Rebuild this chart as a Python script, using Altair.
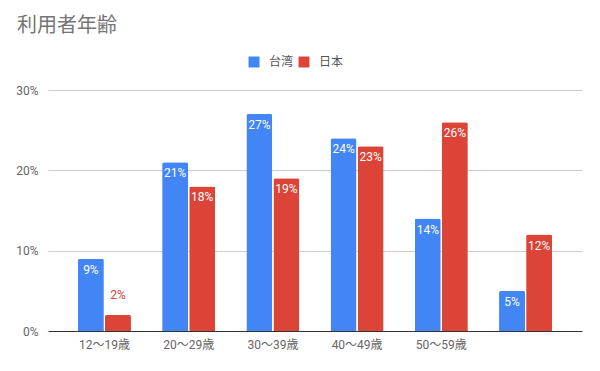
import altair as alt
import pandas as pd

categories = ["12〜19歳", "20〜29歳", "30〜39歳", "40〜49歳", "50〜59歳", " "]
series_names = ["台湾", "日本"]
taiwan = [9, 21, 27, 24, 14, 5]
japan = [2, 18, 19, 23, 26, 12]
colors = ["#4285F4", "#DB4437"]

rows = []
for c, t, j in zip(categories, taiwan, japan):
    rows.append({"cat": c, "series": "台湾", "value": t, "label": f"{t}%"})
    rows.append({"cat": c, "series": "日本", "value": j, "label": f"{j}%"})
df = pd.DataFrame(rows)

FONT = "Roboto, Noto Sans CJK JP, sans-serif"

x = alt.X("cat:N", sort=categories, title=None,
          scale=alt.Scale(paddingInner=0.37, paddingOuter=0.355),
          axis=alt.Axis(labelAngle=0, labelColor="#666666", labelFontSize=12,
                        labelFont=FONT, labelPadding=8, ticks=False,
                        domainColor="#333333", domainWidth=1.2, grid=False))
xo = alt.XOffset("series:N", sort=series_names, scale=alt.Scale(paddingInner=0.04))
y = alt.Y("value:Q", title=None,
          scale=alt.Scale(domain=[0, 30], nice=False),
          axis=alt.Axis(values=[0, 10, 20, 30], labelExpr="datum.value + '%'",
                        labelColor="#666666", labelFontSize=12, labelFont=FONT,
                        labelPadding=10, ticks=False, domain=False,
                        gridColor="#cccccc", gridWidth=1))
color = alt.Color("series:N", sort=series_names,
                  scale=alt.Scale(domain=series_names, range=colors),
                  legend=alt.Legend(title=None, orient="none", direction="horizontal",
                                    legendX=200, legendY=-34, symbolType="square",
                                    symbolSize=120, symbolStrokeWidth=0,
                                    labelFontSize=12, labelColor="#555555",
                                    labelFont=FONT, columnPadding=4, labelOffset=9))

base = alt.Chart(df).encode(x=x, xOffset=xo)

bars = base.mark_bar(cornerRadiusTopLeft=2, cornerRadiusTopRight=2).encode(y=y, color=color)

inside = base.transform_filter("datum.value >= 5").mark_text(
    baseline="top", dy=6, color="white", fontSize=12, font=FONT
).encode(y="value:Q", text="label:N")

outside = base.transform_filter("datum.value < 5").mark_text(
    baseline="bottom", dy=-13, fontSize=12, font=FONT
).encode(y="value:Q", text="label:N",
         color=alt.Color("series:N", scale=alt.Scale(domain=series_names, range=colors), legend=None))

chart = alt.layer(bars, inside, outside).properties(
    width=534, height=241,
    title=alt.TitleParams("利用者年齢", anchor="start", frame="group", fontSize=20,
                          color="#757575", fontWeight="normal", font=FONT,
                          dx=-31, offset=20),
    autosize=alt.AutoSizeParams(type="none"),
    padding={"left": 40, "top": 82, "right": 10, "bottom": 32},
).configure_view(stroke=None)

chart.save("out.html", embed_options={"renderer": "svg", "actions": False})
